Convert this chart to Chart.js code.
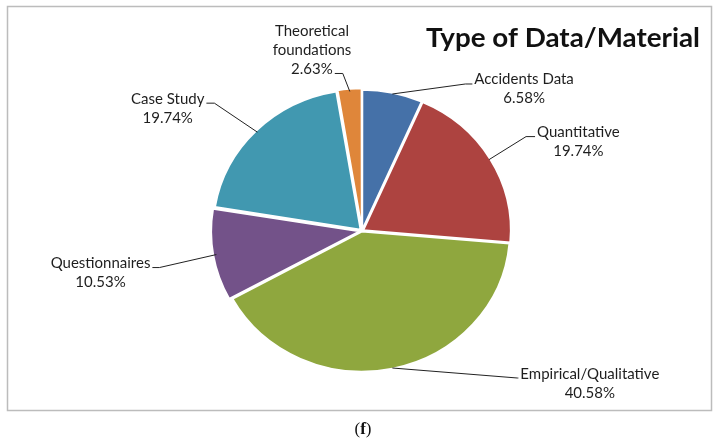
<!DOCTYPE html>
<html>
<head>
<meta charset="utf-8">
<script src="https://cdn.jsdelivr.net/npm/chart.js@4"></script>
<style>
  body { margin: 0; background: #fff; }
  #wrap { width: 714px; height: 439px; position: relative; }
</style>
</head>
<body>
<div id="wrap"><canvas id="pie"></canvas></div>
<script>
const categories = ['Accidents Data', 'Quantitative', 'Empirical/Qualitative', 'Questionnaires', 'Case Study', 'Theoretical foundations'];
const shares = [6.58, 19.74, 40.58, 10.53, 19.74, 2.63];
const sliceColors = ['#4571a8', '#ad4340', '#8fa73e', '#735289', '#4198b0', '#df863a'];
// how far each slice is pulled out of the pie, px
const explode = [3, 5, 2, 9, 7, 6];
// how the label text breaks onto lines
const labelLines = [['Accidents Data'], ['Quantitative'], ['Empirical/Qualitative'], ['Questionnaires'], ['Case Study'], ['Theoretical', 'foundations']];
// leader line: elbow offset from the slice edge, then a short horizontal tail
const leaders = [
  { dx: 73, dy: -10, tail: 7 },
  { dx: 37, dy: -23, tail: 9 },
  { dx: 125, dy: 10, tail: 1 },
  { dx: -57, dy: 13, tail: -7 },
  { dx: -43, dy: -29, tail: -8 },
  { dx: -7, dy: -18, tail: -8, above: true }
];

const labelFont = '15px Lato';
const lineH = 19;
const stretchX = 1.055; // the original pie is a touch wider than tall

const decorations = {
  id: 'decorations',
  beforeDraw(chart) {
    const ctx = chart.ctx;
    ctx.save();
    ctx.fillStyle = '#fff';
    ctx.fillRect(0, 0, chart.width, chart.height);
    ctx.strokeStyle = '#bcbcbc';
    ctx.lineWidth = 1.5;
    ctx.strokeRect(7.5, 6.5, 704, 404);
    ctx.restore();
  },
  beforeDatasetsDraw(chart) {
    const ctx = chart.ctx;
    const cx = (chart.chartArea.left + chart.chartArea.right) / 2;
    ctx.save();
    ctx.translate(cx, 0);
    ctx.scale(stretchX, 1);
    ctx.translate(-cx, 0);
  },
  afterDatasetsDraw(chart) {
    chart.ctx.restore();
  },
  afterDraw(chart) {
    const ctx = chart.ctx;
    const arcs = chart.getDatasetMeta(0).data;
    const cx0 = (chart.chartArea.left + chart.chartArea.right) / 2;
    ctx.save();

    // title, squeezed to the reference's width
    ctx.font = 'bold 27px Lato';
    ctx.fillStyle = '#111';
    ctx.textBaseline = 'alphabetic';
    ctx.textAlign = 'left';
    const title = 'Type of Data/Material';
    const tw = ctx.measureText(title).width;
    ctx.save();
    ctx.translate(426, 47);
    ctx.scale(274 / tw, 1);
    ctx.fillText(title, 0, 0);
    ctx.restore();

    // slice labels with leader lines
    ctx.font = labelFont;
    arcs.forEach((arc, i) => {
      const p = arc.getProps(['x', 'y', 'startAngle', 'endAngle', 'outerRadius'], true);
      const mid = (p.startAngle + p.endAngle) / 2;
      const ax = cx0 + (p.x + Math.cos(mid) * p.outerRadius - cx0) * stretchX;
      const ay = p.y + Math.sin(mid) * p.outerRadius;
      const L = leaders[i];
      const ex = ax + L.dx, ey = ay + L.dy;
      const tx = ex + L.tail;

      ctx.strokeStyle = '#222';
      ctx.lineWidth = 1;
      ctx.beginPath();
      ctx.moveTo(ax, ay);
      ctx.lineTo(ex, ey);
      ctx.lineTo(tx, ey);
      ctx.stroke();

      const lines = labelLines[i].concat([shares[i].toFixed(2) + '%']);
      const attach = L.above ? lines[lines.length - 1] : lines[0];
      const aw = ctx.measureText(attach).width;
      const cx = L.tail >= 0 ? tx + 2 + aw / 2 : tx - 2 - aw / 2;
      const firstBase = L.above ? ey + 0.5 - (lines.length - 1) * lineH : ey + 0.5;
      ctx.fillStyle = '#1e1e1e';
      ctx.textAlign = 'center';
      lines.forEach((t, k) => ctx.fillText(t, cx, firstBase + k * lineH));
    });

    // panel letter under the frame
    ctx.fillStyle = '#111';
    ctx.textAlign = 'left';
    ctx.font = '17px "Liberation Serif"';
    const pw = ctx.measureText('(').width;
    ctx.font = 'bold 17px "Liberation Serif"';
    const fw = ctx.measureText('f').width;
    let x = 363 - (2 * pw + fw) / 2;
    ctx.font = '17px "Liberation Serif"';
    ctx.fillText('(', x, 434);
    ctx.font = 'bold 17px "Liberation Serif"';
    ctx.fillText('f', x + pw, 434);
    ctx.font = '17px "Liberation Serif"';
    ctx.fillText(')', x + pw + fw, 434);
    ctx.restore();
  }
};

new Chart(document.getElementById('pie'), {
  type: 'pie',
  data: {
    labels: categories,
    datasets: [{
      data: shares,
      backgroundColor: sliceColors,
      borderColor: '#fff',
      borderWidth: 2,
      offset: explode,
      radius: 140,
      clip: false
    }]
  },
  options: {
    responsive: true,
    maintainAspectRatio: false,
    animation: false,
    layout: { padding: { top: 80, bottom: 57, left: 100, right: 90 } },
    plugins: {
      legend: { display: false },
      tooltip: { enabled: false },
      title: { display: false }
    }
  },
  plugins: [decorations]
});
</script>
</body>
</html>
